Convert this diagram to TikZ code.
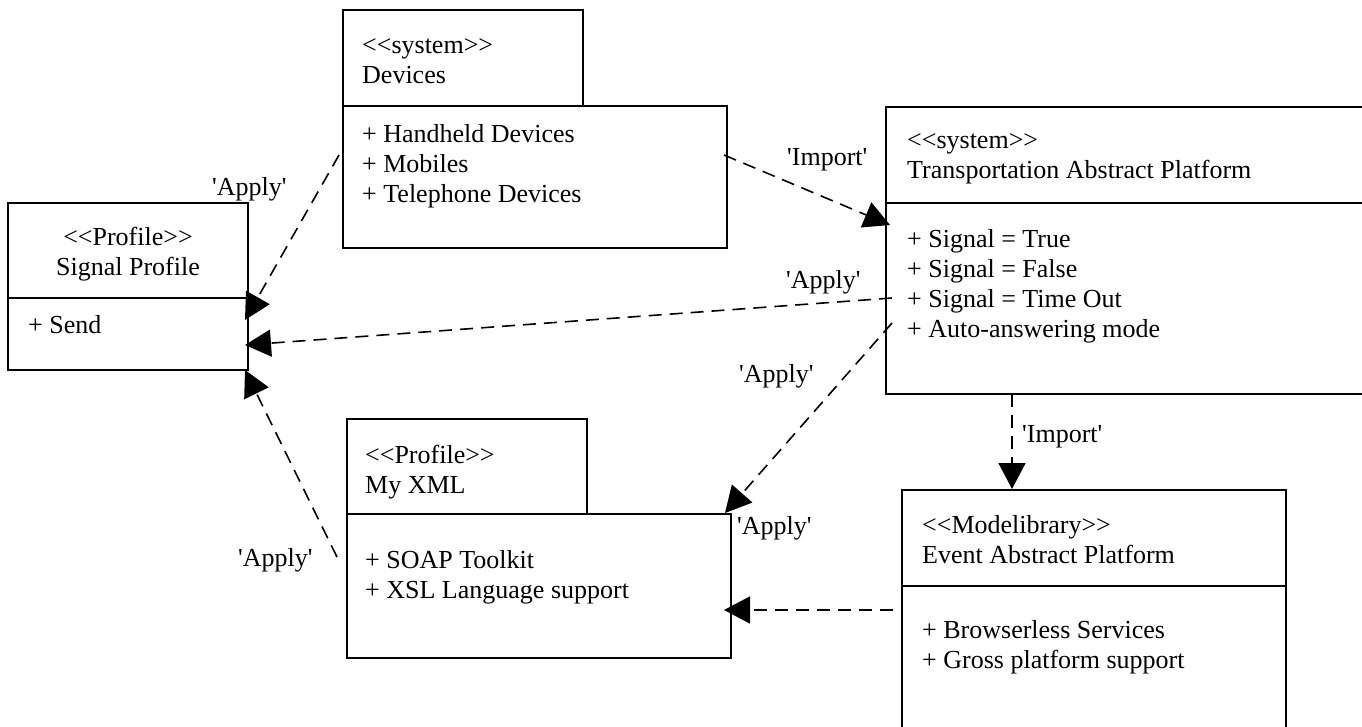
\documentclass[tikz,border=0pt]{standalone}
\usepackage{fontspec}
\setmainfont{Liberation Serif}[Ligatures=TeXOff]
\usetikzlibrary{arrows.meta}

\begin{document}
\begin{tikzpicture}[x=1pt,y=-1pt,
	box/.style={draw,line width=1.8pt,fill=white,inner sep=0pt,outer sep=0pt,anchor=north west},
	txt/.style={inner sep=0pt,anchor=base west,font=\fontsize{26}{30}\selectfont},
	dep/.style={line width=1.6pt,dash pattern=on 13pt off 8pt,-{Triangle[length=26pt,width=27pt]}}]
	\useasboundingbox (0,0) rectangle (1362,726);
	% packages
	\node[box,minimum width=240,minimum height=95] (sigHead) at (8,203) {};
	\node[box,minimum width=240,minimum height=72] (sigBody) at (sigHead.south west) {};
	\node[box,minimum width=240,minimum height=96] (devHead) at (343,10) {};
	\node[box,minimum width=384,minimum height=142] (devBody) at (devHead.south west) {};
	\node[box,minimum width=490,minimum height=96] (trHead) at (886,107) {};
	\node[box,minimum width=490,minimum height=191] (trBody) at (trHead.south west) {};
	\node[box,minimum width=240,minimum height=95] (xmlHead) at (347,419) {};
	\node[box,minimum width=384,minimum height=144] (xmlBody) at (xmlHead.south west) {};
	\node[box,minimum width=384,minimum height=96] (evHead) at (902,490) {};
	\node[box,minimum width=384,minimum height=160] (evBody) at (evHead.south west) {};
	% texts
	\node[txt,anchor=base] (sigStereo) at (128,245) {<<Profile>>};
	\node[txt,anchor=base] (sigName) at (128,275) {Signal Profile};
	\node[txt] (sigSend) at (28,333) {+ Send};
	\node[txt] (devStereo) at (362,53) {<<system>>};
	\node[txt] (devName) at (362,83) {Devices};
	\node[txt] (devHand) at (362,142) {+ Handheld Devices};
	\node[txt] (devMob) at (362,172) {+ Mobiles};
	\node[txt] (devTel) at (362,202) {+ Telephone Devices};
	\node[txt] (trStereo) at (907,148) {<<system>>};
	\node[txt] (trName) at (907,178) {Transportation Abstract Platform};
	\node[txt] (trTrue) at (907,247) {+ Signal = True};
	\node[txt] (trFalse) at (907,277) {+ Signal = False};
	\node[txt] (trTime) at (907,307) {+ Signal = Time Out};
	\node[txt] (trAuto) at (907,337) {+ Auto-answering mode};
	\node[txt] (xmlStereo) at (365,463) {<<Profile>>};
	\node[txt] (xmlName) at (365,493) {My XML};
	\node[txt] (xmlSoap) at (365,568) {+ SOAP Toolkit};
	\node[txt] (xmlXsl) at (365,598) {+ XSL Language support};
	\node[txt] (evStereo) at (922,533) {<<Modelibrary>>};
	\node[txt] (evName) at (922,563) {Event Abstract Platform};
	\node[txt] (evBrow) at (922,638) {+ Browserless Services};
	\node[txt] (evGross) at (922,668) {+ Gross platform support};
	% dependencies
	\coordinate (devOutA) at (339,155);
	\coordinate (sigInA) at (245,320);
	\coordinate (devOutI) at (724,155);
	\coordinate (trInI) at (890,225);
	\coordinate (trOutA) at (892,298);
	\coordinate (sigInB) at (245,345);
	\coordinate (trOutB) at (892,323);
	\coordinate (xmlInA) at (725,513);
	\coordinate (trOutI) at (1012,394);
	\coordinate (evInI) at (1012,489);
	\coordinate (evOut) at (893,610);
	\coordinate (xmlInB) at (724,610);
	\coordinate (xmlOut) at (337,557);
	\coordinate (sigInC) at (245,370);
	\draw[dep] (devOutA) -- (sigInA);
	\draw[dep] (devOutI) -- (trInI);
	\draw[dep] (trOutA) -- (sigInB);
	\draw[dep] (trOutB) -- (xmlInA);
	\draw[dep] (trOutI) -- (evInI);
	\draw[dep] (evOut) -- (xmlInB);
	\draw[dep] (xmlOut) -- (sigInC);
	% labels
	\node[txt] (lblApplyA) at (212,195) {'Apply'};
	\node[txt] (lblImportA) at (787,165) {'Import'};
	\node[txt] (lblApplyB) at (786,288) {'Apply'};
	\node[txt] (lblApplyC) at (739,382) {'Apply'};
	\node[txt] (lblApplyD) at (737,534) {'Apply'};
	\node[txt] (lblImportB) at (1022,442) {'Import'};
	\node[txt] (lblApplyE) at (238,566) {'Apply'};
\end{tikzpicture}
\end{document}
